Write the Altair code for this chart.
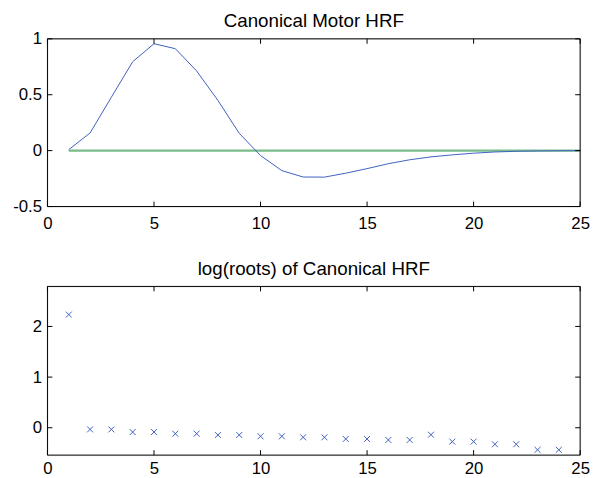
import altair as alt
import pandas as pd

# ---- data ----
hrf_x = list(range(1, 26))
hrf_y = [0.009, 0.158, 0.478, 0.795, 0.956, 0.912, 0.713, 0.449, 0.155, -0.044,
         -0.179, -0.236, -0.237, -0.202, -0.161, -0.117, -0.082, -0.056, -0.038,
         -0.023, -0.012, -0.006, -0.003, -0.001, 0.0]
zero_x = [1, 25]
zero_y = [0.0, 0.0]

root_x = list(range(1, 25))
root_y = [2.234, -0.033, -0.033, -0.085, -0.085, -0.117, -0.117, -0.143, -0.143,
          -0.169, -0.169, -0.189, -0.189, -0.221, -0.221, -0.241, -0.241, -0.137,
          -0.274, -0.274, -0.326, -0.326, -0.436, -0.436]

x_ticks = [0, 5, 10, 15, 20, 25]
top_y_ticks = [-0.5, 0, 0.5, 1]
bot_y_ticks = [0, 1, 2]

W, H1, H2 = 540, 170, 171
TL = 5
BLUE = "#3e5fbf"
GREEN = "#78bd8a"
FONT = "Liberation Sans"
LFS = 17
TFS = 19

hrf_df = pd.DataFrame({"x": hrf_x, "y": hrf_y})
zero_df = pd.DataFrame({"x": zero_x, "y": zero_y})
root_df = pd.DataFrame({"x": root_x, "y": root_y})
xt_df = pd.DataFrame({"v": x_ticks})


def xaxis(pad):
    return alt.Axis(values=x_ticks, ticks=False, domain=False, grid=False,
                    title=None, labelFont=FONT, labelFontSize=LFS, labelColor="black",
                    labelPadding=pad, labelExpr="'' + datum.value", labelFlush=False,
                    labelOverlap=False)


def yaxis(vals):
    return alt.Axis(values=vals, ticks=False, domain=False, grid=False,
                    title=None, labelFont=FONT, labelFontSize=LFS, labelColor="black",
                    labelPadding=6, labelExpr="'' + datum.value", labelFlush=False,
                    labelOverlap=False, minExtent=36, maxExtent=36)


def frame_layers(xs, ys, xdom, ydom, H):
    xsc = alt.Scale(domain=xdom, nice=False, zero=False)
    ysc = alt.Scale(domain=ydom, nice=False, zero=False)
    ydf = pd.DataFrame({"v": ys})
    box = alt.Chart(pd.DataFrame({"v": [0]})).mark_rect(
        fill=None, stroke="black", strokeWidth=1).encode(
        x=alt.value(0), x2=alt.value(W), y=alt.value(0), y2=alt.value(H))
    t_top = alt.Chart(xs).mark_rule(color="black", strokeWidth=1).encode(
        x=alt.X("v:Q", scale=xsc), y=alt.value(0), y2=alt.value(TL))
    t_bot = alt.Chart(xs).mark_rule(color="black", strokeWidth=1).encode(
        x=alt.X("v:Q", scale=xsc), y=alt.value(H), y2=alt.value(H - TL))
    t_left = alt.Chart(ydf).mark_rule(color="black", strokeWidth=1).encode(
        y=alt.Y("v:Q", scale=ysc), x=alt.value(0), x2=alt.value(TL))
    t_right = alt.Chart(ydf).mark_rule(color="black", strokeWidth=1).encode(
        y=alt.Y("v:Q", scale=ysc), x=alt.value(W), x2=alt.value(W - TL))
    return [box, t_top, t_bot, t_left, t_right]


top_xdom = [0, 25]
top_ydom = [-0.5, 1]
xsc1 = alt.Scale(domain=top_xdom, nice=False, zero=False)
ysc1 = alt.Scale(domain=top_ydom, nice=False, zero=False)

hrf_line = alt.Chart(hrf_df).mark_line(color=BLUE, strokeWidth=1, clip=True).encode(
    x=alt.X("x:Q", scale=xsc1, axis=xaxis(9)),
    y=alt.Y("y:Q", scale=ysc1, axis=yaxis(top_y_ticks)))
zero_line = alt.Chart(zero_df).mark_line(color=GREEN, strokeWidth=2.2).encode(
    x=alt.X("x:Q", scale=xsc1), y=alt.Y("y:Q", scale=ysc1))

top = alt.layer(zero_line, hrf_line,
                *frame_layers(xt_df, top_y_ticks, top_xdom, top_ydom, H1)).properties(
    width=W, height=H1,
    title=alt.Title("Canonical Motor HRF", font=FONT, fontSize=TFS,
                    fontWeight="normal", color="black", offset=-1, frame="group"))

bot_xdom = [0, 25]
bot_ydom = [-0.54, 2.79]
xsc2 = alt.Scale(domain=bot_xdom, nice=False, zero=False)
ysc2 = alt.Scale(domain=bot_ydom, nice=False, zero=False)

cross = "M-1,-1L1,1M1,-1L-1,1"
roots = alt.Chart(root_df).mark_point(shape=cross, filled=False, size=36,
                                      color=BLUE, strokeWidth=1, opacity=1).encode(
    x=alt.X("x:Q", scale=xsc2, axis=xaxis(6)),
    y=alt.Y("y:Q", scale=ysc2, axis=yaxis(bot_y_ticks)))

bot = alt.layer(roots, *frame_layers(xt_df, bot_y_ticks, bot_xdom, bot_ydom, H2)).properties(
    width=W, height=H2,
    title=alt.Title("log(roots) of Canonical HRF", font=FONT, fontSize=TFS,
                    fontWeight="normal", color="black", offset=7, frame="group"))

chart = alt.vconcat(top, bot, spacing=28).properties(
    padding={"left": 3, "top": 0, "right": 0, "bottom": 0}
).configure_view(stroke=None).configure(background="white")

chart.save("out.html", embed_options={"renderer": "svg", "actions": False})
